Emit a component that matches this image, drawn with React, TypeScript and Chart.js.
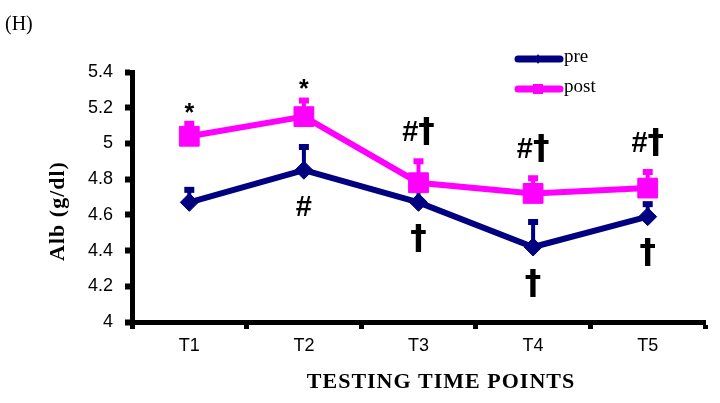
import React, { useEffect, useRef } from 'react';
import { Chart, registerables } from 'chart.js';

Chart.register(...registerables);

const categories = ['T1', 'T2', 'T3', 'T4', 'T5'];
const seriesNames = ['pre', 'post'];
const preValues = [4.67, 4.85, 4.67, 4.42, 4.59];
const preErrors = [0.07, 0.13, 0.1, 0.14, 0.07];
const postValues = [5.04, 5.15, 4.78, 4.72, 4.75];
const postErrors = [0.07, 0.09, 0.12, 0.085, 0.09];
const postMarks = ['*', '*', '#†', '#†', '#†'];
const preMarks = ['', '#', '†', '†', '†'];
const yMin = 4;
const yMax = 5.4;
const yStep = 0.2;
const yTitle = 'Alb (g/dl)';
const xTitle = 'TESTING TIME POINTS';
const panelLabel = '(H)';

const NAVY = '#000080';
const MAGENTA = '#FF00FF';

const charFont = (c: string) =>
  c === '†' ? 'bold 33px "DejaVu Sans"' : c === '*' ? 'bold 25px "Liberation Sans"' : 'bold 29px "Liberation Sans"';

function drawMark(ctx: CanvasRenderingContext2D, text: string, cx: number, cy: number) {
  const chars = Array.from(text);
  const widths = chars.map((c) => {
    ctx.font = charFont(c);
    return ctx.measureText(c).width;
  });
  const total = widths.reduce((a, b) => a + b, 0);
  let x = cx - total / 2;
  chars.forEach((c, i) => {
    ctx.font = charFont(c);
    ctx.fillText(c, x, cy);
    x += widths[i];
  });
}

const errorBarPlugin = {
  id: 'errorBars',
  beforeDatasetsDraw(chart: any) {
    const ctx = chart.ctx;
    const y = chart.scales.y;
    chart.data.datasets.forEach((ds: any, i: number) => {
      const meta = chart.getDatasetMeta(i);
      meta.data.forEach((pt: any, j: number) => {
        const top = y.getPixelForValue(ds.data[j] + ds.errors[j]);
        ctx.save();
        ctx.fillStyle = ds.borderColor;
        ctx.fillRect(pt.x - 2, top, 4, pt.y - top);
        ctx.fillRect(pt.x - 5, top - 3, 10, 6);
        ctx.restore();
      });
    });
  },
};

const annotationPlugin = {
  id: 'annotations',
  afterDatasetsDraw(chart: any) {
    const ctx = chart.ctx;
    const y = chart.scales.y;
    const preMeta = chart.getDatasetMeta(0);
    const postMeta = chart.getDatasetMeta(1);
    ctx.save();
    ctx.fillStyle = '#000';
    ctx.textAlign = 'left';
    ctx.textBaseline = 'middle';
    postMarks.forEach((m, j) => {
      if (!m) return;
      const pt = postMeta.data[j];
      const top = y.getPixelForValue(postValues[j] + postErrors[j]);
      if (m === '*') drawMark(ctx, m, pt.x, top - 10);
      else drawMark(ctx, m, pt.x, top - 28);
    });
    preMarks.forEach((m, j) => {
      if (!m) return;
      const pt = preMeta.data[j];
      drawMark(ctx, m, pt.x, pt.y + 38);
    });
    ctx.restore();
  },
};

const decorPlugin = {
  id: 'decor',
  afterDraw(chart: any) {
    const ctx = chart.ctx;
    ctx.save();
    ctx.fillStyle = '#000';
    ctx.font = '20px "Liberation Serif"';
    ctx.textAlign = 'left';
    ctx.textBaseline = 'middle';
    ctx.fillText(panelLabel, 5, 25);
    ctx.font = 'bold 22px "Liberation Serif"';
    (ctx as any).letterSpacing = '1px';
    ctx.textAlign = 'center';
    ctx.fillText(xTitle, 441, 382);
    ctx.translate(58, 211);
    ctx.rotate(-Math.PI / 2);
    ctx.fillText(yTitle, 0, 0);
    ctx.restore();

    ctx.save();
    const colors = [NAVY, MAGENTA];
    const ys = [59, 89];
    seriesNames.forEach((name, i) => {
      const ly = ys[i];
      ctx.strokeStyle = colors[i];
      ctx.lineWidth = 7;
      ctx.lineCap = 'round';
      ctx.beginPath();
      ctx.moveTo(518, ly);
      ctx.lineTo(560, ly);
      ctx.stroke();
      ctx.fillStyle = colors[i];
      if (i === 0) {
        ctx.beginPath();
        ctx.moveTo(538, ly - 5);
        ctx.lineTo(541, ly);
        ctx.lineTo(538, ly + 5);
        ctx.lineTo(535, ly);
        ctx.closePath();
        ctx.fill();
      } else {
        ctx.fillRect(533, ly - 5, 10, 10);
      }
      ctx.fillStyle = '#000';
      ctx.font = '19px "Liberation Serif"';
      ctx.textAlign = 'left';
      ctx.textBaseline = 'middle';
      ctx.fillText(name, 564, ly - 2);
    });
    ctx.restore();
  },
};

export default function App() {
  const ref = useRef<HTMLCanvasElement | null>(null);
  useEffect(() => {
    if (!ref.current) return;
    const tickFont = { family: '"Liberation Sans"', size: 18 };
    const chart = new Chart(ref.current, {
      type: 'line',
      data: {
        labels: categories,
        datasets: [
          {
            label: seriesNames[0],
            data: preValues,
            errors: preErrors,
            borderColor: NAVY,
            backgroundColor: NAVY,
            borderWidth: 6,
            pointStyle: 'rectRot',
            pointRadius: 9,
            pointBorderWidth: 1,
            tension: 0,
            order: 2,
          } as any,
          {
            label: seriesNames[1],
            data: postValues,
            errors: postErrors,
            borderColor: MAGENTA,
            backgroundColor: MAGENTA,
            borderWidth: 6,
            pointStyle: 'rect',
            pointRadius: 14,
            pointBorderWidth: 1,
            tension: 0,
            order: 1,
          } as any,
        ],
      },
      options: {
        responsive: false,
        animation: false,
        devicePixelRatio: 1,
        layout: { padding: { top: 72, right: 14, left: 0, bottom: 0 } },
        plugins: { legend: { display: false }, tooltip: { enabled: false } },
        scales: {
          x: {
            type: 'category',
            offset: true,
            grid: {
              offset: true,
              drawOnChartArea: false,
              tickLength: 7,
              tickWidth: 5,
              tickColor: '#000',
              color: '#000',
            },
            border: { display: true, width: 5, color: '#000' },
            ticks: { color: '#000', font: tickFont, padding: 6 },
            afterFit: (s: any) => {
              s.height = 81;
            },
          },
          y: {
            min: yMin,
            max: yMax,
            ticks: {
              stepSize: yStep,
              color: '#000',
              font: tickFont,
              padding: 12,
              callback: (v: any) => String(Math.round(Number(v) * 10) / 10),
            },
            grid: {
              drawOnChartArea: false,
              tickLength: 7,
              tickWidth: 6,
              tickColor: '#000',
              color: '#000',
            },
            border: { display: true, width: 5, color: '#000' },
            afterFit: (s: any) => {
              s.width = 132;
            },
          },
        },
      } as any,
      plugins: [errorBarPlugin, annotationPlugin, decorPlugin],
    });
    return () => chart.destroy();
  }, []);
  return (
    <div style={{ position: 'fixed', left: 0, top: 0, width: 720, height: 403, background: '#fff' }}>
      <canvas ref={ref} width={720} height={403} />
    </div>
  );
}
